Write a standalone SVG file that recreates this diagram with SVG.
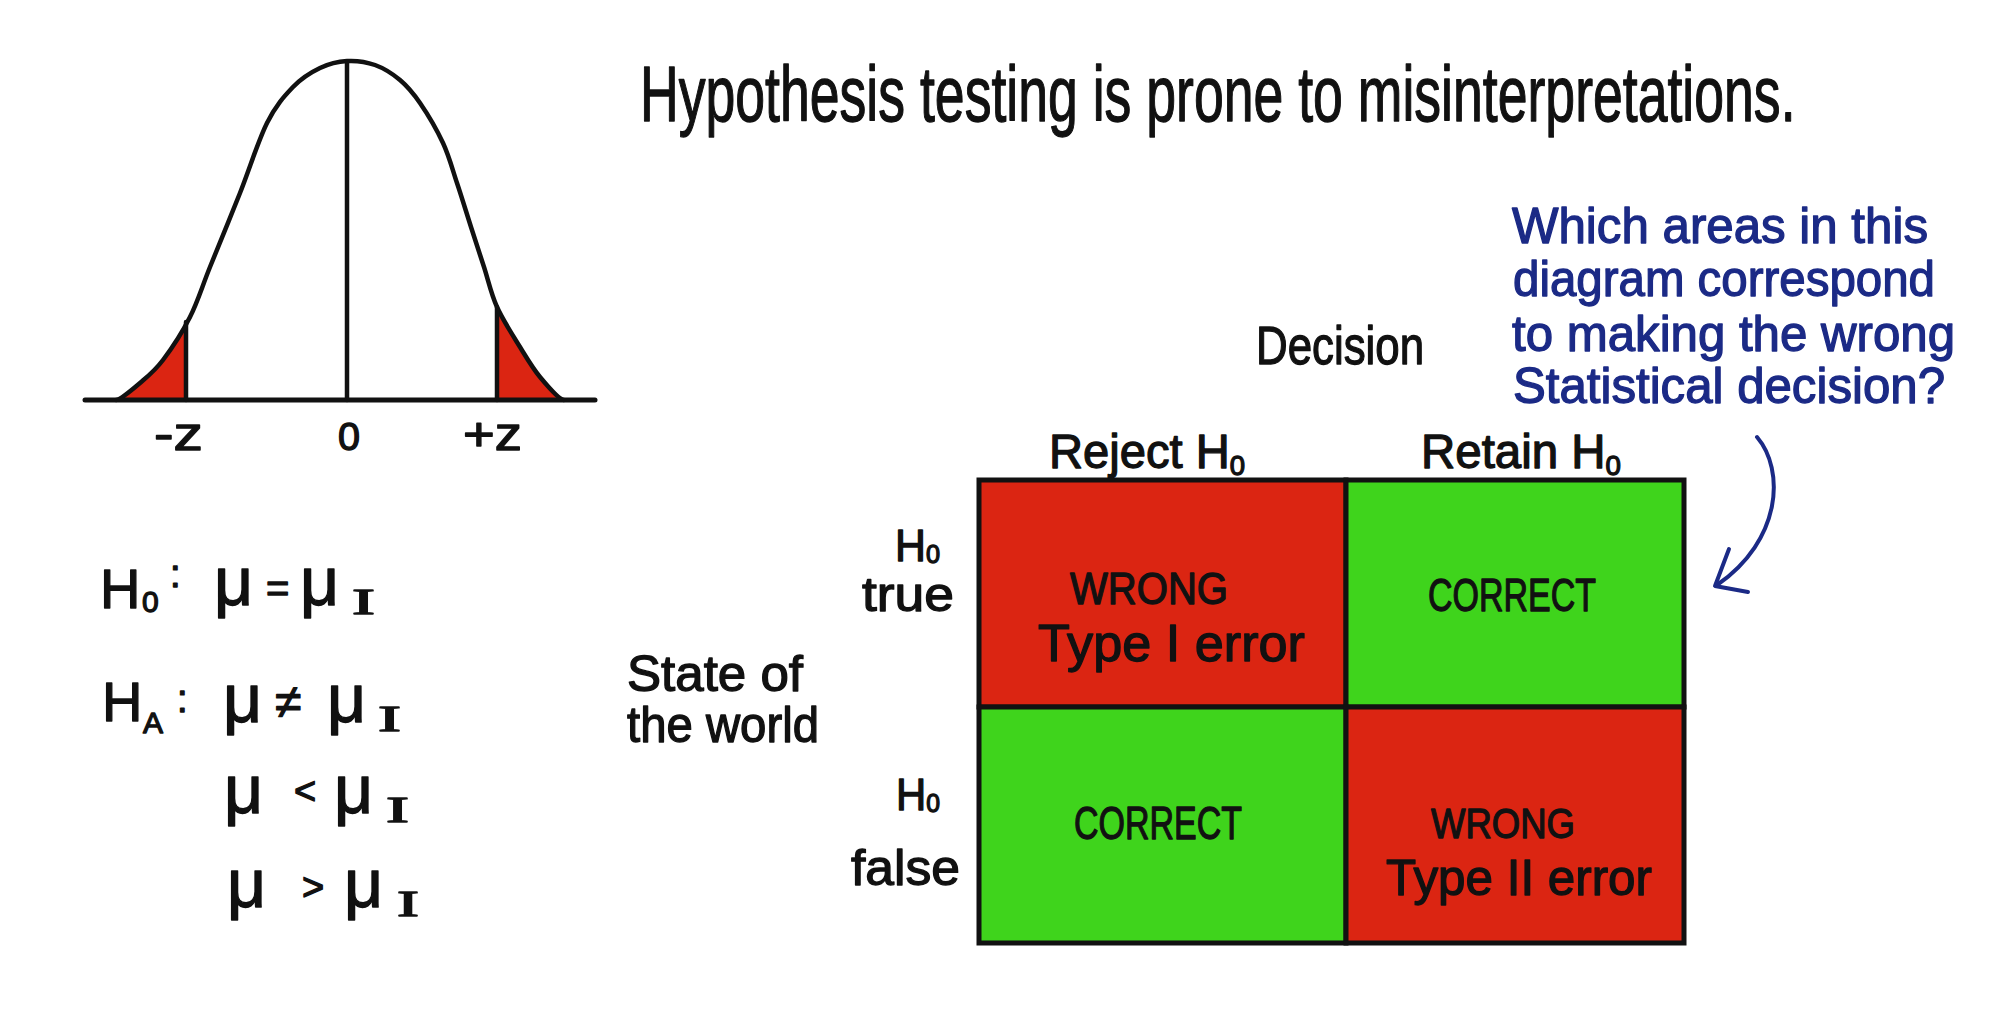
<svg xmlns="http://www.w3.org/2000/svg" width="2006" height="1010" viewBox="0 0 2006 1010">
<style>
  text { font-family: "Liberation Sans", Arial, sans-serif; fill: #111; stroke: #111; stroke-width: 1.3; stroke-linejoin: round; }
  text.blue { fill: #1b2a86; stroke: #1b2a86; }
  .ln { stroke: #111; stroke-width: 4.5; fill: none; stroke-linecap: round; stroke-linejoin: round; }
  .red { fill: #db2512; }
  .green { fill: #3fd41c; }
  .cell { stroke: #111; stroke-width: 5; }
  .sub { font-size: 30px; }
  .roman { font-family: "Liberation Serif", "Times New Roman", serif; font-size: 36px; }
</style>
<defs>
  <clipPath id="tailL"><rect x="0" y="0" width="186" height="400"/></clipPath>
  <clipPath id="tailR"><rect x="497" y="0" width="200" height="400"/></clipPath>
  <path id="bell" d="M 116 400 C 120 400, 132.2 389.7, 140 383 C 147.8 376.3, 154.7 371, 163 360 C 171.3 349, 182.2 332.5, 190 317 C 197.8 301.5, 201.7 287.7, 210 267 C 218.3 246.3, 230.5 217, 240 193 C 249.5 169, 258.2 140.7, 267 123 C 275.8 105.3, 284.2 96.2, 293 87 C 301.8 77.8, 311 72.3, 320 68 C 329 63.7, 337.8 61.5, 347 61 C 356.2 60.5, 366.2 61.8, 375 65 C 383.8 68.2, 392.5 73.7, 400 80 C 407.5 86.3, 412.8 92.5, 420 103 C 427.2 113.5, 436.8 129.7, 443 143 C 449.2 156.3, 452.3 169, 457 183 C 461.7 197, 466.5 213, 471 227 C 475.5 241, 479.7 253.7, 484 267 C 488.3 280.3, 491 293.7, 497 307 C 503 320.3, 512.8 335.3, 520 347 C 527.2 358.7, 532.7 368.2, 540 377 C 547.3 385.8, 560 400, 564 400"/>
</defs>
<rect width="2006" height="1010" fill="#ffffff"/>

<g id="title">
  <text transform="translate(640,121) scale(0.687,1)" x="0" y="0" font-size="78" textLength="1682" lengthAdjust="spacingAndGlyphs">Hypothesis testing is prone to misinterpretations.</text>
</g>

<g id="bell-curve">
  <use href="#bell" class="red" clip-path="url(#tailL)"/>
  <use href="#bell" class="red" clip-path="url(#tailR)"/>
  <use href="#bell" class="ln"/>
  <line x1="85" y1="400" x2="595" y2="400" class="ln" style="stroke-width:5"/>
  <line x1="347" y1="62" x2="347" y2="400" class="ln"/>
  <line x1="186" y1="322" x2="186" y2="400" class="ln"/>
  <line x1="497" y1="307" x2="497" y2="400" class="ln"/>
  <text x="154" y="450" font-size="46" textLength="49" lengthAdjust="spacingAndGlyphs">-z</text>
  <text x="338" y="450" font-size="38" textLength="22" lengthAdjust="spacingAndGlyphs">0</text>
  <text x="463" y="450" font-size="46" textLength="59" lengthAdjust="spacingAndGlyphs">+z</text>
</g>

<g id="hypotheses">
  <text font-size="56"><tspan x="100" y="608">H</tspan><tspan class="sub" x="142" y="612">0</tspan><tspan x="170" y="587" font-size="38">:</tspan></text>
  <text font-size="68"><tspan x="214" y="605">μ</tspan><tspan x="266" y="602" font-size="40">=</tspan><tspan x="300" y="605">μ</tspan><tspan class="roman" x="352" y="614" textLength="23" lengthAdjust="spacingAndGlyphs">I</tspan></text>
  <text font-size="56"><tspan x="102" y="721">H</tspan><tspan class="sub" x="143" y="733">A</tspan><tspan x="177" y="712" font-size="38">:</tspan></text>
  <text font-size="68"><tspan x="223" y="722">μ</tspan><tspan x="275" y="718" font-size="48">≠</tspan><tspan x="327" y="722">μ</tspan><tspan class="roman" x="378" y="731" textLength="23" lengthAdjust="spacingAndGlyphs">I</tspan></text>
  <text font-size="68"><tspan x="224" y="813">μ</tspan><tspan x="294" y="804" font-size="38">&lt;</tspan><tspan x="334" y="813">μ</tspan><tspan class="roman" x="386" y="822" textLength="23" lengthAdjust="spacingAndGlyphs">I</tspan></text>
  <text font-size="68"><tspan x="227" y="907">μ</tspan><tspan x="302" y="900" font-size="38">&gt;</tspan><tspan x="344" y="907">μ</tspan><tspan class="roman" x="397" y="916" textLength="22" lengthAdjust="spacingAndGlyphs">I</tspan></text>
</g>

<g id="decision-label">
  <text x="1256" y="364" font-size="54" textLength="168" lengthAdjust="spacingAndGlyphs">Decision</text>
</g>
<g id="col-reject">
  <text x="1049" y="468" font-size="48" textLength="196" lengthAdjust="spacingAndGlyphs">Reject H<tspan font-size="28" dy="7">0</tspan></text>
</g>
<g id="col-retain">
  <text x="1421" y="468" font-size="48" textLength="200" lengthAdjust="spacingAndGlyphs">Retain H<tspan font-size="28" dy="7">0</tspan></text>
</g>
<g id="state-label">
  <text x="627" y="691" font-size="50" textLength="176" lengthAdjust="spacingAndGlyphs">State of</text>
  <text x="627" y="742" font-size="50" textLength="192" lengthAdjust="spacingAndGlyphs">the world</text>
</g>
<g id="row-true">
  <text x="895" y="561" font-size="44" textLength="45" lengthAdjust="spacingAndGlyphs">H<tspan font-size="26" dy="2">0</tspan></text>
  <text x="862" y="611" font-size="48" textLength="92" lengthAdjust="spacingAndGlyphs">true</text>
</g>
<g id="row-false">
  <text x="896" y="810" font-size="44" textLength="44" lengthAdjust="spacingAndGlyphs">H<tspan font-size="26" dy="2">0</tspan></text>
  <text x="851" y="885" font-size="50" textLength="109" lengthAdjust="spacingAndGlyphs">false</text>
</g>

<g id="cell-type1">
  <rect x="979" y="480" width="367" height="227" class="red cell"/>
  <text x="1070" y="604" font-size="44" textLength="158" lengthAdjust="spacingAndGlyphs">WRONG</text>
  <text x="1038" y="661" font-size="52" textLength="267" lengthAdjust="spacingAndGlyphs">Type I error</text>
</g>
<g id="cell-correct-tr">
  <rect x="1346" y="480" width="338" height="227" class="green cell"/>
  <text x="1428" y="611" font-size="47" textLength="168" lengthAdjust="spacingAndGlyphs">CORRECT</text>
</g>
<g id="cell-correct-bl">
  <rect x="979" y="707" width="367" height="236" class="green cell"/>
  <text x="1074" y="839" font-size="47" textLength="168" lengthAdjust="spacingAndGlyphs">CORRECT</text>
</g>
<g id="cell-type2">
  <rect x="1346" y="707" width="338" height="236" class="red cell"/>
  <text x="1431" y="838" font-size="42" textLength="144" lengthAdjust="spacingAndGlyphs">WRONG</text>
  <text x="1386" y="895" font-size="50" textLength="266" lengthAdjust="spacingAndGlyphs">Type II error</text>
</g>

<g id="question">
  <text class="blue" x="1512" y="243" font-size="50" textLength="416" lengthAdjust="spacingAndGlyphs">Which areas in this</text>
  <text class="blue" x="1513" y="296" font-size="50" textLength="422" lengthAdjust="spacingAndGlyphs">diagram correspond</text>
  <text class="blue" x="1512" y="351" font-size="50" textLength="443" lengthAdjust="spacingAndGlyphs">to making the wrong</text>
  <text class="blue" x="1513" y="403" font-size="50" textLength="432" lengthAdjust="spacingAndGlyphs">Statistical decision?</text>
</g>

<g id="connectors">
  <path d="M 1757 437 C 1785 470, 1782 540, 1717 585" fill="none" stroke="#1b2a86" stroke-width="4" stroke-linecap="round"/>
  <polyline points="1729,549 1715,586 1748,592" fill="none" stroke="#1b2a86" stroke-width="4" stroke-linecap="round" stroke-linejoin="round"/>
</g>
</svg>
